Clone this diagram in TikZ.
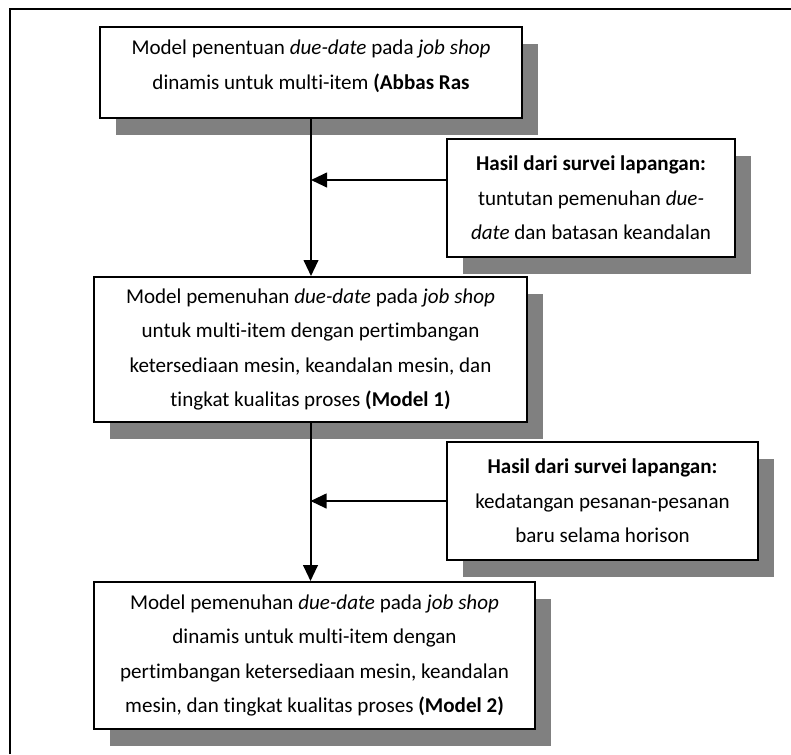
\documentclass[tikz,border=0pt]{standalone}
\usepackage{fontspec}
\setmainfont{Carlito}[Ligatures=NoCommon]
\usetikzlibrary{arrows.meta,shadows}
\definecolor{shadowgray}{RGB}{128,128,128}
\begin{document}
\begin{tikzpicture}[x=0.75pt, y=-0.75pt, font=\fontsize{15.8}{25.9}\selectfont,
		kotak/.style={draw, line width=1.5pt, fill=white, align=center, inner sep=0pt,
			drop shadow={shadow xshift=12pt, shadow yshift=-12.75pt, fill=shadowgray, opacity=1}},
		panah/.style={line width=1.5pt, -{Triangle[length=12pt, width=11pt]}}]
		\useasboundingbox (0,0) rectangle (791,754);
		\draw[line width=1.5pt] (10,754) -- (10,9) -- (791,9);

		\node[kotak, minimum width=316.5pt, minimum height=68.25pt] (abbas) at (311, 72.5) {Model penentuan \textit{due-date} pada \textit{job shop}\\ dinamis untuk multi-item \textbf{(Abbas Ras}\\[-14pt]};
		\node[kotak, minimum width=216pt, minimum height=88.5pt] (survei1) at (591, 198) {\textbf{Hasil dari survei lapangan:}\\ tuntutan pemenuhan \textit{due-}\\ \textit{date} dan batasan keandalan};
		\node[kotak, minimum width=324.75pt, minimum height=108.75pt] (model1) at (310.5, 349.5) {Model pemenuhan \textit{due-date} pada \textit{job shop}\\ untuk multi-item dengan pertimbangan\\ ketersediaan mesin, keandalan mesin, dan\\ tingkat kualitas proses \textbf{(Model 1)}};
		\node[kotak, minimum width=233.25pt, minimum height=88.5pt] (survei2) at (602.5, 501) {\textbf{Hasil dari survei lapangan:}\\ kedatangan pesanan-pesanan\\ baru selama horison};
		\node[kotak, minimum width=330.75pt, minimum height=110.25pt] (model2) at (314.5, 655.5) {Model pemenuhan \textit{due-date} pada \textit{job shop}\\ dinamis untuk multi-item dengan\\ pertimbangan ketersediaan mesin, keandalan\\ mesin, dan tingkat kualitas proses \textbf{(Model 2)}};

		\coordinate (temu1) at (abbas.south |- 0,180);
		\coordinate (temu2) at (model1.south |- survei2.west);

		\draw[panah] (abbas.south) -- (abbas.south |- model1.north);
		\draw[panah] (model1.south) -- (model1.south |- model2.north);
		\draw[panah] (survei1.west |- temu1) -- (temu1);
		\draw[panah] (survei2.west) -- (temu2);
	\end{tikzpicture}
\end{document}
